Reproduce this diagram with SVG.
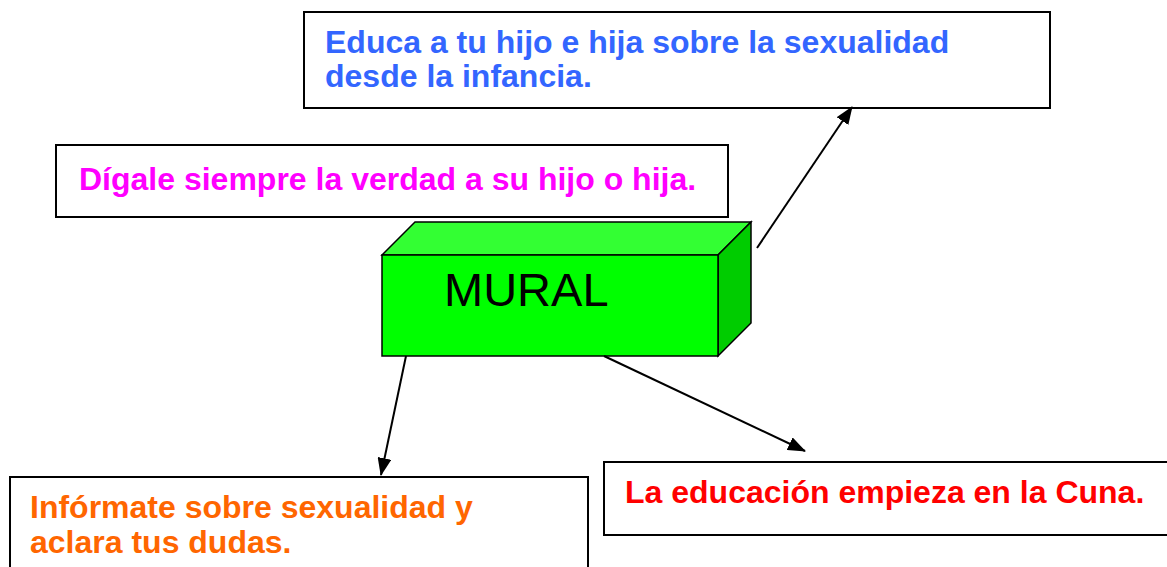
<svg xmlns="http://www.w3.org/2000/svg" width="1167" height="567" viewBox="0 0 1167 567">
<defs>
<style>
.box{fill:#fff;stroke:#000;stroke-width:2}
.t{font-family:"Liberation Sans",Arial,sans-serif;font-weight:bold;font-size:32px}
.edge{stroke:#000;stroke-width:2;fill:none}
</style>
<marker id="ah" viewBox="0 0 18 14" refX="17" refY="7" markerWidth="18" markerHeight="14" markerUnits="userSpaceOnUse" orient="auto">
<path d="M0,0 L18,7 L0,14 z" fill="#000"/>
</marker>
</defs>
<rect width="1167" height="567" fill="#fff"/>
<g id="node-educa">
<rect class="box" x="304" y="12" width="746" height="96"/>
<text class="t" fill="#3366FF" x="325" y="53">Educa a tu hijo e hija sobre la sexualidad</text>
<text class="t" fill="#3366FF" x="325" y="87">desde la infancia.</text>
</g>
<g id="node-digale">
<rect class="box" x="56" y="145" width="672" height="72"/>
<text class="t" fill="#FF00FF" x="79" y="190">Dígale siempre la verdad a su hijo o hija.</text>
</g>
<g id="node-mural">
<polygon points="382,255 415,222 751,222 718,255" fill="#33FF33" stroke="#000" stroke-width="1.5"/>
<polygon points="718,255 751,222 751,323 718,356" fill="#00CC00" stroke="#000" stroke-width="1.5"/>
<rect x="382" y="255" width="336" height="101" fill="#00FF00" stroke="#000" stroke-width="1.5"/>
<text x="444" y="306" font-family="Liberation Sans,Arial,sans-serif" font-size="47" fill="#000">MURAL</text>
</g>
<g id="node-informate">
<rect class="box" x="10" y="477" width="578" height="100"/>
<text class="t" fill="#FF6600" x="30" y="518">Infórmate sobre sexualidad y</text>
<text class="t" fill="#FF6600" x="30" y="553">aclara tus dudas.</text>
</g>
<g id="node-cuna">
<rect class="box" x="604" y="462" width="580" height="73"/>
<text class="t" fill="#FF0000" x="625" y="503">La educación empieza en la Cuna.</text>
</g>
<g id="connectors">
<line class="edge" x1="757" y1="248" x2="852" y2="107" marker-end="url(#ah)"/>
<line class="edge" x1="406" y1="356" x2="381" y2="475" marker-end="url(#ah)"/>
<line class="edge" x1="604" y1="356" x2="805" y2="451" marker-end="url(#ah)"/>
</g>
</svg>
